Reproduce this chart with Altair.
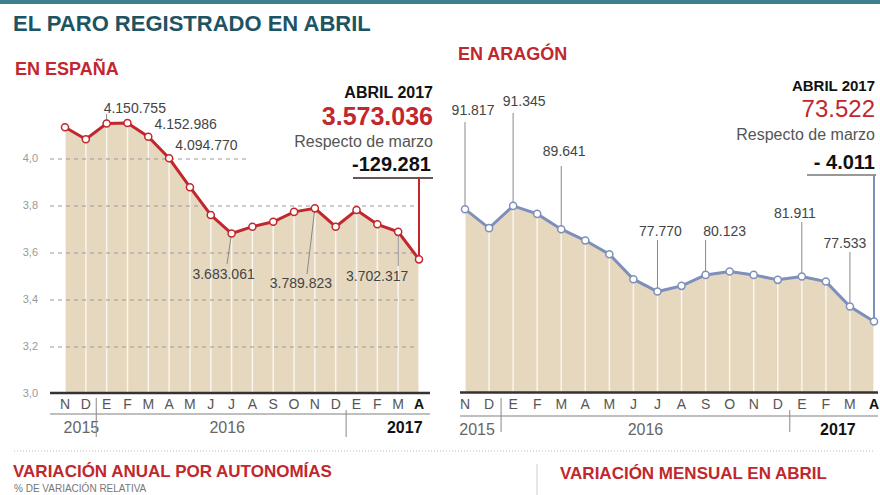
import altair as alt
import pandas as pd

# ---------------- data ----------------
months = ["N", "D", "E", "F", "M", "A", "M", "J", "J", "A", "S", "O", "N", "D", "E", "F", "M", "A"]
month_year = ["2015", "2015"] + ["2016"] * 12 + ["2017"] * 4

# Spain, millions of registered unemployed
spain_millions = [4.135, 4.084, 4.151, 4.153, 4.095, 4.003, 3.880, 3.762, 3.683,
                  3.712, 3.733, 3.775, 3.790, 3.712, 3.783, 3.722, 3.690, 3.573]
# Aragon, thousands of registered unemployed (as drawn)
aragon_thousands = [91.65, 88.59, 92.18, 90.89, 88.42, 86.59, 84.39, 80.36, 78.36,
                    79.28, 81.05, 81.59, 81.05, 80.25, 80.78, 79.97, 75.94, 73.52]

es_label_idx = [2, 3, 4, 8, 12, 16]
es_label_text = ["4.150.755", "4.152.986", "4.094.770", "3.683.061", "3.789.823", "3.702.317"]
ar_label_idx = [0, 2, 4, 8, 10, 14, 16]
ar_label_text = ["91.817", "91.345", "89.641", "77.770", "80.123", "81.911", "77.533"]

es_grid = [3.2, 3.4, 3.6, 3.8]
es_ticks = [3.0, 3.2, 3.4, 3.6, 3.8, 4.0]
es_tick_text = ["3,0", "3,2", "3,4", "3,6", "3,8", "4,0"]

es_total, es_change = "3.573.036", "-129.281"
ar_total, ar_change = "73.522", "- 4.011"

# ---------------- styles ----------------
FONT = "Liberation Sans"
RED = "#c1272d"
BLUE = "#7d8fba"
BEIGE = "#e6d8bf"
TEAL = "#1d5463"
GREY = "#444444"

ES_X = dict(domain=[0, 17], range=[65, 419])
ES_Y = dict(domain=[3.0, 4.0], range=[394, 159])
AR_X = dict(domain=[0, 17], range=[465, 874])
AR_Y = dict(domain=[62, 92], range=[393, 207])

ONE = pd.DataFrame({"a": [0]})


def sx(d):
    return alt.Scale(domain=d["domain"], range=d["range"], nice=False, zero=False)


def txt(text, x, y, size, color, weight="normal", align="left"):
    return alt.Chart(ONE).mark_text(text=text, font=FONT, fontSize=size, color=color,
                                    fontWeight=weight, align=align, baseline="alphabetic").encode(
        x=alt.value(x), y=alt.value(y))


def hrule(x1, x2, y, color, width=1.0, dash=None):
    kw = dict(color=color, strokeWidth=width)
    if dash:
        kw["strokeDash"] = dash
    return alt.Chart(ONE).mark_rule(**kw).encode(x=alt.value(x1), x2=alt.value(x2), y=alt.value(y))


def vrule(x, y1, y2, color, width=1.0):
    return alt.Chart(ONE).mark_rule(color=color, strokeWidth=width).encode(
        x=alt.value(x), y=alt.value(y1), y2=alt.value(y2))


def panel(values, XS, YS, base, color):
    df = pd.DataFrame({"i": list(range(len(values))), "v": values})
    X = alt.X("i:Q", scale=sx(XS), axis=None)
    Y = alt.Y("v:Q", scale=sx(YS), axis=None)
    area = alt.Chart(df).mark_area(color=BEIGE, opacity=1).encode(x=X, y=Y, y2=alt.datum(base))
    stripes = alt.Chart(df).mark_rule(color="white", strokeWidth=1.5, opacity=0.75).encode(
        x=X, y=Y, y2=alt.datum(base))
    line = alt.Chart(df).mark_line(color=color, strokeWidth=3).encode(x=X, y=Y)
    pts = alt.Chart(df).mark_point(filled=True, fill="white", stroke=color, strokeWidth=1.5,
                                   size=50, opacity=1).encode(x=X, y=Y)
    return area, stripes, line, pts, df, X, Y


def month_axis(XS, y_letter, y_year, dx_years, dx_last):
    df = pd.DataFrame({"i": list(range(18)), "m": months, "year": month_year})
    X = alt.X("i:Q", scale=sx(XS), axis=None)
    Xm = alt.X("mi:Q", scale=sx(XS), axis=None)
    reg = alt.Chart(df).transform_filter("datum.i < 17").mark_text(
        font=FONT, fontSize=14, color="#555555", baseline="alphabetic").encode(
        x=X, y=alt.value(y_letter), text="m:N")
    last = alt.Chart(df).transform_filter("datum.i == 17").mark_text(
        font=FONT, fontSize=14, color="#111111", fontWeight="bold", baseline="alphabetic").encode(
        x=X, y=alt.value(y_letter), text="m:N")
    yrs = alt.Chart(df).transform_aggregate(mi="mean(i)", groupby=["year"])
    yreg = yrs.transform_filter("datum.year != '2017'").mark_text(
        font=FONT, fontSize=16, color="#666666", baseline="alphabetic", dx=dx_years).encode(
        x=Xm, y=alt.value(y_year), text="year:N")
    ylast = yrs.transform_filter("datum.year == '2017'").mark_text(
        font=FONT, fontSize=16, color="#111111", fontWeight="bold", baseline="alphabetic",
        dx=dx_last).encode(x=Xm, y=alt.value(y_year), text="year:N")
    return [reg, last, yreg, ylast]


def sep_rules(XS, y1s, y2):
    out = []
    for s, y1 in zip([1.5, 13.5], y1s):
        d = pd.DataFrame({"s": [s]})
        out.append(alt.Chart(d).mark_rule(color="#888888", strokeWidth=1).encode(
            x=alt.X("s:Q", scale=sx(XS), axis=None), y=alt.value(y1), y2=alt.value(y2)))
    return out


layers = []

# top bar and title
layers.append(alt.Chart(ONE).mark_rect(color="#3d7f8e").encode(
    x=alt.value(0), x2=alt.value(880), y=alt.value(0), y2=alt.value(4)))
layers.append(txt("EL PARO REGISTRADO EN ABRIL", 13, 31, 22, TEAL, "bold"))
layers.append(txt("EN ESPAÑA", 15, 75, 18, RED, "bold"))
layers.append(txt("EN ARAGÓN", 458, 60, 18, RED, "bold"))

# ---------- Spain ----------
area, stripes, line, pts, es_df, EX, EY = panel(spain_millions, ES_X, ES_Y, 3.0, RED)
layers += [area, stripes]

gdf = pd.DataFrame({"g": es_grid})
layers.append(alt.Chart(gdf).mark_rule(color="#999999", strokeWidth=1, strokeDash=[4, 4]).encode(
    x=alt.value(50), x2=alt.value(415), y=alt.Y("g:Q", scale=sx(ES_Y), axis=None)))
layers.append(alt.Chart(pd.DataFrame({"g": [4.0]})).mark_rule(
    color="#999999", strokeWidth=1, strokeDash=[4, 4]).encode(
    x=alt.value(50), x2=alt.value(248), y=alt.Y("g:Q", scale=sx(ES_Y), axis=None)))
tdf = pd.DataFrame({"t": es_ticks, "lab": es_tick_text})
layers.append(alt.Chart(tdf).mark_text(font=FONT, fontSize=11, color="#999999", align="right",
                                       baseline="middle").encode(
    x=alt.value(38), y=alt.Y("t:Q", scale=sx(ES_Y), axis=None), text="lab:N"))

# Spain labels (leaders + text)
es_leader_end = {2: (None, 120), 8: (227, 264), 12: (307, 274), 16: (None, 266)}
es_text_pos = {2: (-3, 113, "left"), 3: (27, 129, "left"), 4: (27, 150, "left"),
               8: (-8, 279, "center"), 12: (-14, 288, "center"), 16: (-21, 281, "center")}
for i, lab in zip(es_label_idx, es_label_text):
    d = pd.DataFrame({"i": [i], "v": [spain_millions[i]], "lab": [lab]})
    if i in es_leader_end:
        xe, ye = es_leader_end[i]
        if i == 2:
            layers.append(alt.Chart(d).mark_rule(color="#888888", strokeWidth=1).encode(
                x=EX, y=alt.value(114), y2=alt.value(ye)))
        else:
            enc = dict(x=EX, y=EY, y2=alt.value(ye))
            if xe is not None:
                enc["x2"] = alt.value(xe)
            layers.append(alt.Chart(d).mark_rule(color="#888888", strokeWidth=1).encode(**enc))
    dx, yb, al = es_text_pos[i]
    layers.append(alt.Chart(d).mark_text(font=FONT, fontSize=14, color=GREY, align=al,
                                         baseline="alphabetic", dx=dx).encode(
        x=EX, y=alt.value(yb), text="lab:N"))

# Spain bracket
layers.append(hrule(353, 433, 178, "#6a5555", 2))
layers.append(alt.Chart(es_df[es_df.i == 17]).mark_rule(color=RED, strokeWidth=2).encode(
    x=EX, y=EY, y2=alt.value(178)))
layers += [line, pts]

layers.append(txt("ABRIL 2017", 433, 98, 16, "#111111", "bold", "right"))
layers.append(txt(es_total, 433, 125, 25, RED, "bold", "right"))
layers.append(txt("Respecto de marzo", 433, 147, 16, "#555555", "normal", "right"))
layers.append(txt(es_change, 431, 171, 20, "#111111", "bold", "right"))

# Spain axis
layers.append(hrule(50, 430, 393, "#333333", 2.5))
layers.append(hrule(50, 430, 414, "#aaaaaa", 1.5))
layers += month_axis(ES_X, 409, 433, 6, 17)
layers += sep_rules(ES_X, [398, 410], 437)

# ---------- Aragon ----------
area, stripes, line, pts, ar_df, AX, AY = panel(aragon_thousands, AR_X, AR_Y, 62, BLUE)
layers += [area, stripes]

ar_leader_top = {0: 122, 2: 113, 4: 166, 8: 240, 10: 240, 14: 222, 16: 252}
ar_text_pos = {0: (8, 115), 2: (11, 106), 4: (3, 156), 8: (3, 236), 10: (19, 236),
               14: (-7, 218), 16: (-5, 248)}
for i, lab in zip(ar_label_idx, ar_label_text):
    d = pd.DataFrame({"i": [i], "v": [aragon_thousands[i]], "lab": [lab]})
    layers.append(alt.Chart(d).mark_rule(color="#888888", strokeWidth=1).encode(
        x=AX, y=AY, y2=alt.value(ar_leader_top[i])))
    dx, yb = ar_text_pos[i]
    layers.append(alt.Chart(d).mark_text(font=FONT, fontSize=14, color=GREY, align="center",
                                         baseline="alphabetic", dx=dx).encode(
        x=AX, y=alt.value(yb), text="lab:N"))

layers.append(hrule(807, 876, 175, "#777777", 1.5))
layers.append(alt.Chart(ar_df[ar_df.i == 17]).mark_rule(color=BLUE, strokeWidth=2).encode(
    x=AX, y=AY, y2=alt.value(175)))
layers += [line, pts]

layers.append(txt("ABRIL 2017", 875, 91, 15, "#111111", "bold", "right"))
layers.append(txt(ar_total, 875, 117, 24, RED, "normal", "right"))
layers.append(txt("Respecto de marzo", 875, 140, 16, "#555555", "normal", "right"))
layers.append(txt(ar_change, 875, 169, 20, "#111111", "bold", "right"))

layers.append(hrule(460, 878, 392.5, "#333333", 2.5))
layers.append(hrule(460, 878, 416, "#aaaaaa", 1.5))
layers += month_axis(AR_X, 409, 435, 0, 0)
layers += sep_rules(AR_X, [398, 410], 432)

# ---------- bottom section ----------
layers.append(hrule(14, 875, 451, "#bbbbbb", 1, [1, 2]))
layers.append(vrule(537, 464, 495, "#cccccc", 1))
layers.append(txt("VARIACIÓN ANUAL POR AUTONOMÍAS", 13, 477, 17, RED, "bold"))
layers.append(txt("% DE VARIACIÓN RELATIVA", 14, 492, 10, "#777777"))
layers.append(txt("VARIACIÓN MENSUAL EN ABRIL", 560, 479, 17, RED, "bold"))

chart = alt.layer(*layers).resolve_scale(x="independent", y="independent").properties(
    width=880, height=495, padding=0,
    autosize=alt.AutoSizeParams(type="none"),
    background="white",
).configure_view(stroke=None)

chart.save("out.html", embed_options={"renderer": "svg", "actions": False})
